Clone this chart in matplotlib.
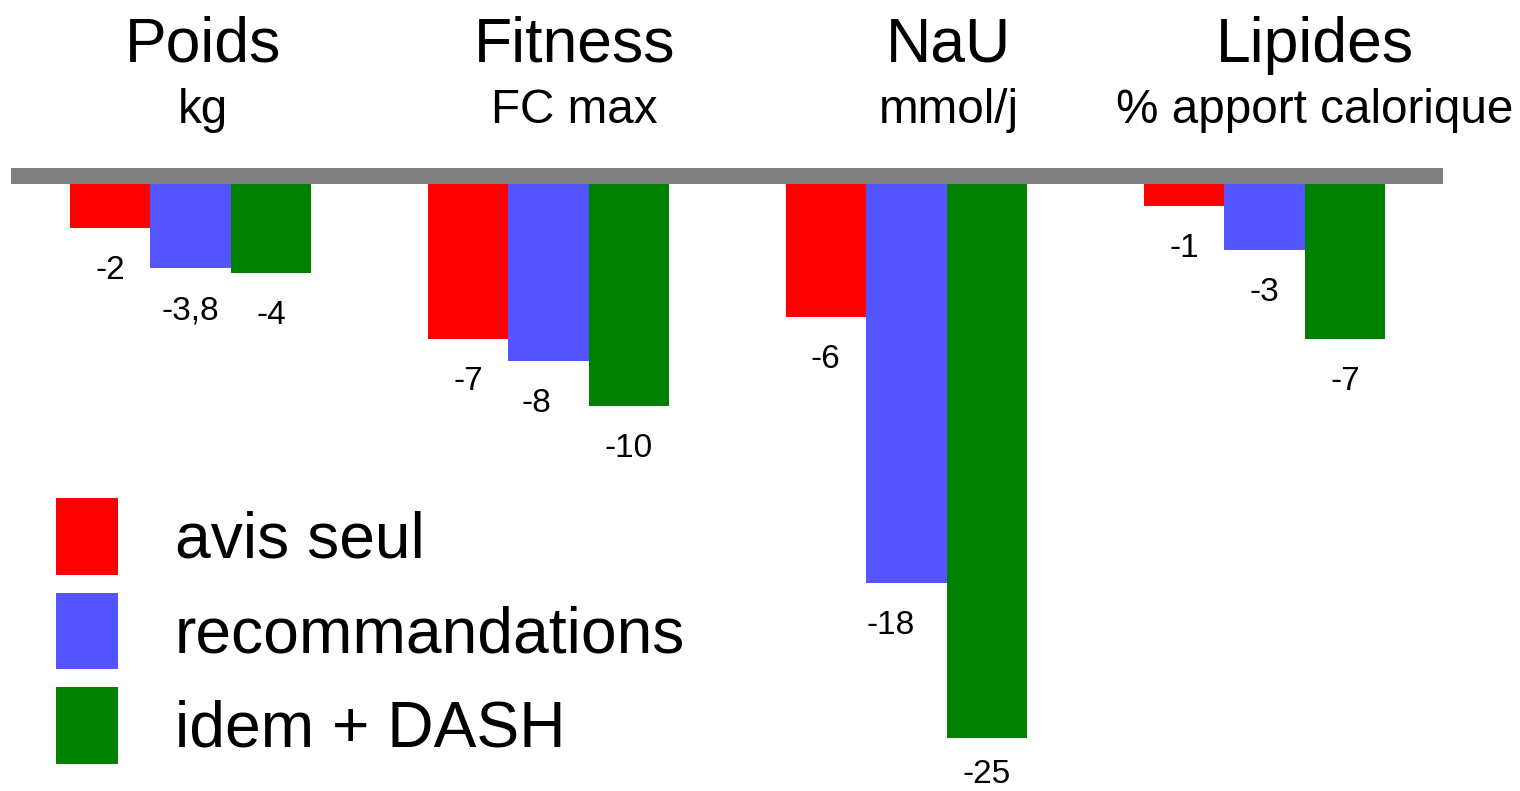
import matplotlib
matplotlib.use("Agg")
import matplotlib.pyplot as plt
from matplotlib.patches import Rectangle
import numpy as np

plt.rcParams['font.family'] = ['Liberation Sans', 'DejaVu Sans']

# measures and their units
measures = ["Poids", "Fitness", "NaU", "Lipides"]
units = ["kg", "FC max", "mmol/j", "% apport calorique"]

# change per measure for each arm
series = ["avis seul", "recommandations", "idem + DASH"]
avis_seul = [-2, -7, -6, -1]
recommandations = [-3.8, -8, -18, -3]
idem_dash = [-4, -10, -25, -7]

colors = ["#ff0000", "#5555ff", "#008000"]

fig = plt.figure(figsize=(15.2, 7.91), dpi=100)
ax = fig.add_axes([0, 0, 1, 1])
ax.set_xlim(-0.532, 3.714)
ax.set_ylim(-27.39, 8.30)
ax.axis("off")

x = np.arange(len(measures))
width = 0.225
offsets = [-width, 0, width]
# small shifts (points) for a few value labels
label_nudge = {(1, 1): (-9, 0), (2, 1): (-11.5, 0), (2, 2): (0, 4.5)}

bars = []
for k, (name, vals, col) in enumerate(zip(series, [avis_seul, recommandations, idem_dash], colors)):
    b = ax.bar(x + offsets[k], vals, width=width, color=col, label=name, zorder=2)
    bars.append(b)
    for i, v in enumerate(vals):
        txt = f"{v:g}".replace(".", ",")
        dx, dy = label_nudge.get((i, k), (0, 0))
        ax.annotate(txt, (x[i] + offsets[k], v),
                    xytext=(dx, -36.7 + dy), textcoords="offset points",
                    ha="center", va="baseline", fontsize=24)

# grey baseline strip the bars hang from
ax.add_patch(Rectangle((-0.5, 0), 4.0, 0.722, color="#808080", lw=0, zorder=3))

# headings
head_x = [0.036, 1.073, 2.118, 3.140]
for hx, m, u in zip(head_x, measures, units):
    ax.text(hx, 5.505, m, ha="center", va="baseline", fontsize=45)
    ax.text(hx, 2.753, u, ha="center", va="baseline", fontsize=34.3)

ax.legend(handles=bars, loc="upper left", bbox_to_anchor=(56 / 1520, 1 - 498 / 791),
          frameon=False, fontsize=46.2, handlelength=0.965, handleheight=1.46,
          handletextpad=0.89, labelspacing=0.28, borderpad=0, borderaxespad=0)

fig.savefig("out.png", dpi=100)
